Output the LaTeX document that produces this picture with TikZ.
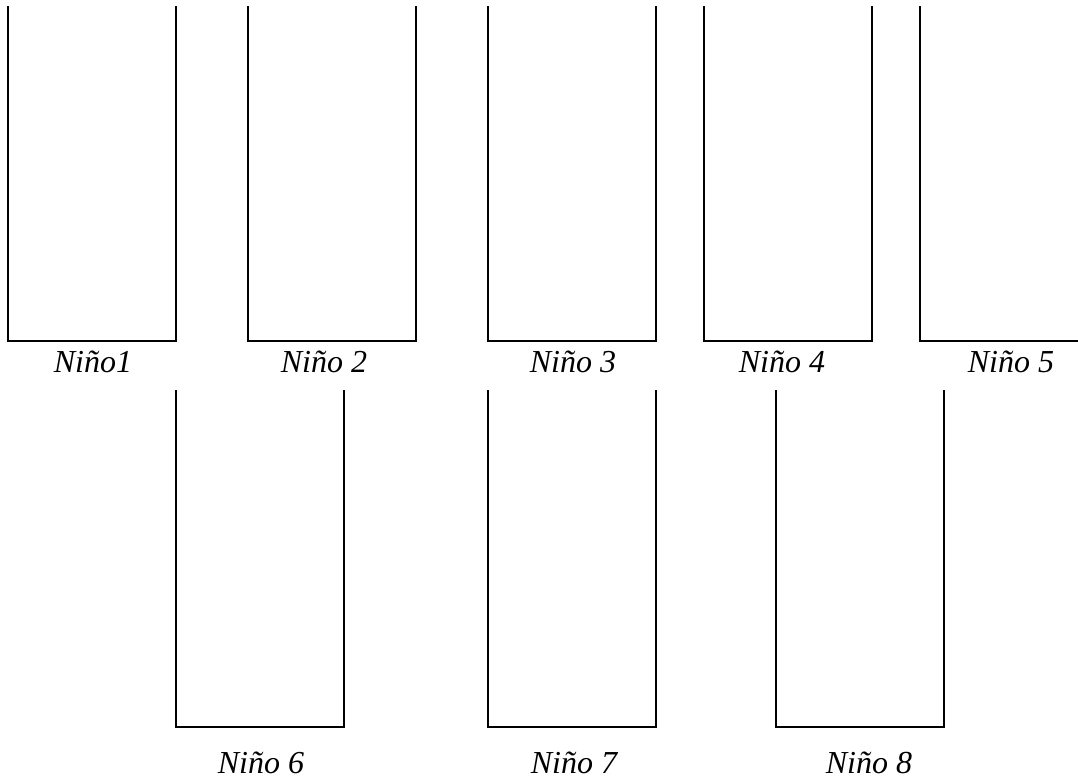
\documentclass[tikz,border=0pt]{standalone}
\usepackage{fontspec}
\setmainfont{Liberation Serif}
\begin{document}
\begin{tikzpicture}[x=1pt,y=-1pt,
  cup/.style={draw=black,line width=1.8pt},
  lbl/.style={anchor=base,inner sep=0pt,font=\fontsize{32}{38}\selectfont\itshape}]
\useasboundingbox (0,0) rectangle (1078,782);
% row 1 cups
\draw[cup] (8,6) -- (8,341) -- (176,341) -- (176,6);
\draw[cup] (248,6) -- (248,341) -- (416,341) -- (416,6);
\draw[cup] (488,6) -- (488,341) -- (656,341) -- (656,6);
\draw[cup] (704,6) -- (704,341) -- (872,341) -- (872,6);
\draw[cup] (920,6) -- (920,341) -- (1080,341);
% row 2 cups
\draw[cup] (176,390) -- (176,727) -- (344,727) -- (344,390);
\draw[cup] (488,390) -- (488,727) -- (656,727) -- (656,390);
\draw[cup] (776,390) -- (776,727) -- (944,727) -- (944,390);
% labels
\node[lbl] (n1) at (93,372) {Niño1};
\node[lbl] (n2) at (324,372) {Niño 2};
\node[lbl] (n3) at (573,372) {Niño 3};
\node[lbl] (n4) at (782,372) {Niño 4};
\node[lbl] (n5) at (1011,372) {Niño 5};
\node[lbl] (n6) at (261,773) {Niño 6};
\node[lbl] (n7) at (574,773) {Niño 7};
\node[lbl] (n8) at (869,773) {Niño 8};
\end{tikzpicture}
\end{document}
